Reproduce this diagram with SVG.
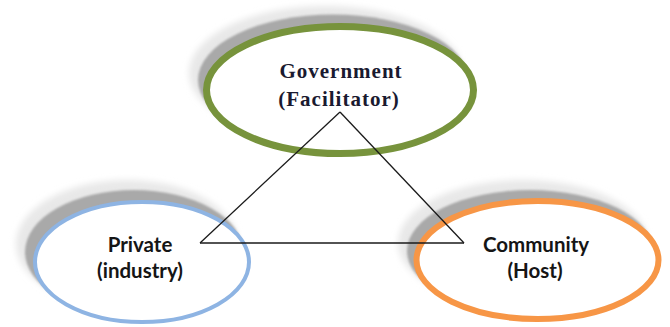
<svg xmlns="http://www.w3.org/2000/svg" width="670" height="327" viewBox="0 0 670 327">
<defs>
<filter id="soft" x="-20%" y="-20%" width="140%" height="140%"><feGaussianBlur stdDeviation="3"/></filter>
<filter id="soft2" x="-20%" y="-20%" width="140%" height="140%"><feGaussianBlur stdDeviation="1"/></filter>
</defs>
<style>
.sh1{fill:#e8e8e8;filter:url(#soft)}
.sh2{fill:#a9a9a9;filter:url(#soft2)}
.node{fill:#ffffff}
.serif{font-family:"Liberation Serif","Times New Roman",serif;font-weight:700;font-size:21px;letter-spacing:1px;fill:#1a1a30;text-anchor:middle}
.sans{font-family:Lato,"Open Sans","Liberation Sans",sans-serif;font-weight:700;font-size:20.5px;fill:#151515;text-anchor:middle}
.edge{stroke:#1a1a1a;stroke-width:1.3;fill:none}
</style>
<rect width="670" height="327" fill="#ffffff"/>
<g id="node-government">
<ellipse class="sh1" cx="326" cy="73" rx="137" ry="67"/>
<ellipse class="sh2" cx="333" cy="80" rx="135" ry="65.5"/>
<ellipse class="node" cx="340" cy="90" rx="133.5" ry="63.5" stroke="#77933c" stroke-width="7"/>
<text class="serif" x="341" y="78">Government</text>
<text class="serif" x="339" y="106">(Facilitator)</text>
</g>
<g id="node-private">
<ellipse class="sh1" cx="127" cy="244" rx="111" ry="64"/>
<ellipse class="sh2" cx="134" cy="252" rx="109" ry="62"/>
<ellipse class="node" cx="142" cy="262" rx="107" ry="60" stroke="#8eb4e3" stroke-width="4"/>
<text class="sans" x="140" y="252">Private</text>
<text class="sans" x="140" y="278">(industry)</text>
</g>
<g id="node-community">
<ellipse class="sh1" cx="523" cy="243" rx="125" ry="63"/>
<ellipse class="sh2" cx="530" cy="251" rx="123" ry="61"/>
<ellipse class="node" cx="537.5" cy="260" rx="121" ry="59" stroke="#f79646" stroke-width="6"/>
<text class="sans" x="536" y="252">Community</text>
<text class="sans" x="535" y="278">(Host)</text>
</g>
<g id="connectors">
<line class="edge" x1="340" y1="112" x2="200" y2="243"/>
<line class="edge" x1="200" y1="243" x2="464" y2="243"/>
<line class="edge" x1="464" y1="243" x2="340" y2="112"/>
</g>
</svg>
